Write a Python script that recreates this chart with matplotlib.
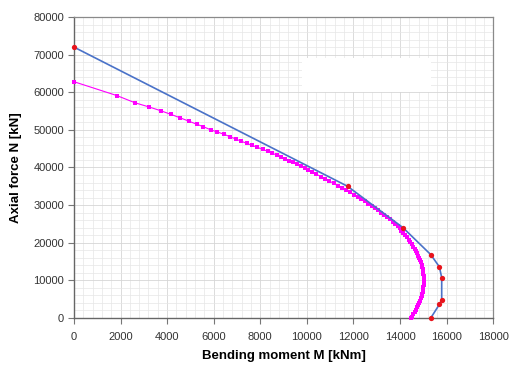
import matplotlib
matplotlib.use('Agg')
import matplotlib.pyplot as plt
from matplotlib.patches import Rectangle
from matplotlib.ticker import MultipleLocator

plt.rcParams['font.family'] = ['Liberation Sans', 'DejaVu Sans']

# design points (blue polyline with red markers)
design_M = [0, 11750, 14120, 15320, 15690, 15790, 15790, 15690, 15320]
design_N = [72000, 35000, 24050, 16850, 13600, 10730, 4820, 3600, 0]

# computed interaction curve (magenta)
curve_M = [0, 1850, 2620, 3220, 3720, 4150, 4540, 4920, 5270, 5555, 5885, 6160,
           6445, 6700, 6945, 7190, 7420, 7645, 7875, 8100, 8320, 8520, 8705,
           8890, 9080, 9250, 9420, 9590, 9765, 9935, 10065,
           10230, 10414, 10600, 10780, 10965, 11150, 11330, 11515, 11700,
           11860, 12020, 12175, 12330, 12480, 12630, 12780, 12925, 13065,
           13200, 13330, 13455, 13575, 13690, 13800, 13900, 13980, 14062,
           14147, 14228, 14305, 14378, 14448, 14513, 14574, 14632, 14685,
           14735, 14780, 14822, 14860, 14893, 14923, 14949, 14970, 14988,
           15002, 15012, 15018, 15020, 15018, 15012, 15002, 14988, 14970,
           14949, 14923, 14893, 14860, 14822, 14780, 14735, 14685, 14632,
           14574, 14513, 14470]
curve_N = [62800, 59100, 57200, 56100, 55100, 54150, 53250, 52350, 51500, 50850,
           49970, 49440, 48820, 48190, 47570, 46960, 46430, 45890, 45360, 44830,
           44300, 43770, 43320, 42790, 42260, 41810, 41380, 40850, 40320, 39790,
           39340,
           38800, 38200, 37600, 37000, 36400, 35800, 35200, 34600, 34000,
           33400, 32800, 32200, 31600, 31000, 30400, 29800, 29200, 28600,
           28000, 27400, 26800, 26200, 25600, 25000, 24400, 23800, 23200,
           22600, 22000, 21400, 20800, 20200, 19600, 19000, 18400, 17800,
           17200, 16600, 16000, 15400, 14800, 14200, 13600, 13000, 12400,
           11800, 11200, 10600, 10000, 9400, 8800, 8200, 7600, 7000,
           6400, 5800, 5200, 4600, 4000, 3400, 2800, 2200, 1600,
           1000, 400, 0]

fig = plt.figure(figsize=(5.1, 3.67), dpi=100)
ax = fig.add_axes([0.145, 0.1335, 0.822, 0.8202])

ax.set_xlim(0, 18000)
ax.set_ylim(0, 80000)
ax.xaxis.set_major_locator(MultipleLocator(2000))
ax.xaxis.set_minor_locator(MultipleLocator(400))
ax.yaxis.set_major_locator(MultipleLocator(10000))
ax.yaxis.set_minor_locator(MultipleLocator(2000))
ax.grid(which='major', color='#d6d6d6', linewidth=0.6, zorder=0)
ax.grid(which='minor', color='#e6e6e6', linewidth=0.5, zorder=0)
ax.set_axisbelow(True)

# blank box (hidden legend area)
ax.add_patch(Rectangle((0.543, 0.751), 0.309, 0.114, transform=ax.transAxes,
                       facecolor='white', edgecolor='none', zorder=1))

ax.plot(curve_M, curve_N, color='#ff00ff', linewidth=0.8, marker='s',
        markersize=3.2, markeredgewidth=0, zorder=3, clip_on=False)
ax.plot(design_M, design_N, color='#4a72c8', linewidth=1.2, zorder=4, clip_on=False)
ax.plot(design_M, design_N, linestyle='none', marker='o', markersize=3.8,
        color='#e8141c', markeredgewidth=0, zorder=5, clip_on=False)

ax.tick_params(which='minor', length=0)
ax.tick_params(which='major', length=4, width=0.8, color='#777777',
               labelsize=8, labelcolor='#333333', pad=6)
ax.tick_params(axis='y', pad=3)
for side in ['left', 'bottom']:
    ax.spines[side].set_color('#666666')
    ax.spines[side].set_linewidth(1.0)
for side in ['top', 'right']:
    ax.spines[side].set_color('#8a8a8a')
    ax.spines[side].set_linewidth(0.9)

ax.set_xlabel('Bending moment M [kNm]', fontsize=9.5, fontweight='bold', labelpad=6)
ax.set_ylabel('Axial force N [kN]', fontsize=9.5, fontweight='bold', labelpad=8)

fig.savefig('out.png', dpi=100)
